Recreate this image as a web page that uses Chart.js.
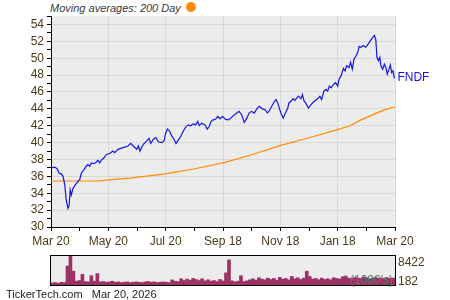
<!DOCTYPE html>
<html>
<head>
<meta charset="utf-8">
<script src="https://cdn.jsdelivr.net/npm/chart.js@4"></script>
<style>
body { margin: 0; width: 450px; height: 300px; background: #fff; position: relative; overflow: hidden; font-family: "Liberation Sans", Arial, sans-serif; }
#main { position: absolute; left: 0; top: 0; }
#vol { position: absolute; left: 0; top: 245px; }
#title { position: absolute; left: 50px; top: 1px; font-size: 11px; line-height: 14px; font-style: italic; color: #3a3a3a; }
#dot { position: absolute; left: 186px; top: 2px; width: 10px; height: 10px; border-radius: 50%; background: #ff8c00; }
#footer { position: absolute; left: 6px; top: 287px; font-size: 11px; line-height: 14px; color: #222; }
</style>
</head>
<body>
<div id="title">Moving averages: 200 Day</div>
<div id="dot"></div>
<canvas id="main" width="450" height="250"></canvas>
<canvas id="vol" width="450" height="55"></canvas>
<div id="footer">TickerTech.com&nbsp;&nbsp; Mar 20, 2026</div>
<script>
seriesName = "FNDF"
xLabels = ["Mar 20", "May 20", "Jul 20", "Sep 18", "Nov 18", "Jan 18", "Mar 20"]

// x in months from the start of the window
priceMonths = [0.01,0.13,0.21,0.28,0.36,0.42,0.48,0.53,0.59,0.63,0.67,0.71,0.77,0.85,0.94,1.00,1.06,1.15,1.23,1.29,
    1.35,1.41,1.50,1.58,1.64,1.70,1.75,1.85,1.93,2.05,2.16,2.22,2.34,2.51,2.69,2.78,2.87,2.99,3.05,3.10,
    3.22,3.34,3.42,3.48,3.57,3.66,3.74,3.86,3.94,4.01,4.06,4.13,4.21,4.29,4.36,4.44,4.52,4.62,4.71,4.79,
    4.87,4.96,5.05,5.12,5.17,5.26,5.37,5.45,5.52,5.58,5.66,5.75,5.82,5.90,5.98,6.07,6.16,6.24,6.36,6.48,
    6.56,6.65,6.74,6.83,6.91,7.00,7.09,7.18,7.27,7.37,7.47,7.55,7.62,7.70,7.78,7.85,7.91,7.96,8.02,8.10,
    8.19,8.26,8.30,8.37,8.45,8.51,8.63,8.72,8.77,8.83,8.88,8.98,9.07,9.18,9.30,9.38,9.44,9.52,9.59,9.65,
    9.71,9.77,9.85,9.93,10.00,10.05,10.12,10.20,10.26,10.31,10.40,10.45,10.51,10.57,10.63,10.70,10.75,10.81,10.89,10.98,
    11.05,11.13,11.21,11.28,11.33,11.37,11.42,11.47,11.51,11.57,11.63,11.68,11.73,11.79,11.84,11.88,11.93,11.98]
priceValues = [37.0,37.1,36.9,36.4,36.3,36.0,35.0,33.2,32.2,32.5,34.4,33.8,34.6,35.0,35.4,35.6,36.4,36.8,37.2,37.4,
    37.2,37.6,37.5,37.7,37.9,37.6,37.9,38.2,38.6,38.7,39.0,38.8,39.2,39.4,39.6,39.9,39.6,39.2,39.6,39.0,
    39.8,40.2,40.5,39.9,40.4,40.6,40.1,40.0,40.2,41.2,41.6,41.4,40.8,40.4,39.9,40.3,40.7,41.4,41.9,42.1,
    42.0,42.2,42.1,42.5,42.0,42.3,42.1,41.6,41.9,42.5,42.7,42.8,43.1,42.8,43.1,42.8,42.7,42.8,43.2,43.5,
    43.7,43.3,42.4,42.9,43.5,43.7,43.5,44.0,44.3,44.0,43.9,43.5,43.8,44.3,44.8,45.1,44.7,44.1,43.5,42.9,
    43.6,44.1,44.7,44.9,45.2,45.0,45.5,45.2,45.7,44.9,44.7,44.1,44.5,44.9,45.2,45.5,45.1,46.1,46.3,46.1,
    46.7,46.5,46.9,47.1,46.7,47.5,47.9,48.8,48.5,49.1,48.9,49.5,48.7,49.9,50.2,50.7,51.4,51.3,51.5,51.3,
    51.6,52.0,52.4,52.7,52.2,50.1,49.7,50.1,49.1,48.7,49.3,48.9,48.1,48.7,49.2,48.3,48.5,47.6]

maMonths = [0, 1.64, 2.2, 2.76, 3.98, 5.02, 6.07, 6.94, 7.99, 9.03, 9.98, 10.43, 10.85, 11.3, 11.65, 12]
maValues = [35.45, 35.45, 35.65, 35.8, 36.3, 36.9, 37.65, 38.5, 39.65, 40.6, 41.5, 42.0, 42.75, 43.4, 43.9, 44.25]

// volume in 1000's
volumes = [600,700,500,800,700,5500,8422,4000,1100,1300,3100,1000,900,2700,1100,3300,900,1000,800,900,
    1100,800,900,700,800,900,700,800,900,800,700,900,1000,800,900,700,800,900,800,700,
    1500,1100,1000,1800,1300,1700,1400,1900,1600,1300,1800,1200,1500,1100,1300,1000,1600,1200,3500,7300,
    1200,900,1100,2700,1000,1200,1500,1800,1400,2100,1700,1500,2000,1600,1900,1400,2200,1700,1900,1500,
    2500,1800,2100,1600,2000,4000,2500,1700,1900,1500,2000,1600,1800,1500,2100,1900,1700,2400,2600,2000,
    1800,2200,2000,1900,2300,2100,1800,2000,2200,1900,2000,1800,2100,1900,2000]
volLabels = [8422, 182]

tickFont = { family: "Liberation Sans", size: 12 }
tickColor = "#4a3a1a"

const plotBg = {
    id: "plotBg",
    beforeDraw(chart) {
        const a = chart.chartArea
        const ctx = chart.ctx
        ctx.save()
        ctx.fillStyle = "#ececec"
        ctx.fillRect(a.left, a.top, a.right - a.left, a.bottom - a.top)
        ctx.restore()
    }
}

const endLabel = {
    id: "endLabel",
    afterDatasetsDraw(chart) {
        const pts = chart.getDatasetMeta(0).data
        const p = pts[pts.length - 1]
        const ctx = chart.ctx
        ctx.save()
        ctx.font = '12px "Liberation Sans"'
        ctx.fillStyle = "#1414e6"
        ctx.textBaseline = "middle"
        ctx.fillText(seriesName, p.x + 3, p.y - 1)
        ctx.restore()
    }
}

new Chart(document.getElementById("main"), {
    type: "line",
    data: {
        datasets: [
            {
                data: priceMonths.map((m, i) => ({ x: m, y: priceValues[i] })),
                borderColor: "#1414e6",
                borderWidth: 1.2,
                pointRadius: 0
            },
            {
                data: maMonths.map((m, i) => ({ x: m, y: maValues[i] })),
                borderColor: "#ff8c00",
                borderWidth: 1.2,
                pointRadius: 0
            }
        ]
    },
    options: {
        responsive: false,
        animation: false,
        devicePixelRatio: 1,
        layout: { padding: { left: 0, right: 55, top: 16, bottom: 0 } },
        plugins: { legend: { display: false }, tooltip: { enabled: false } },
        scales: {
            x: {
                type: "linear",
                min: 0,
                max: 12,
                ticks: {
                    stepSize: 1,
                    autoSkip: false,
                    maxRotation: 0,
                    padding: 3,
                    font: tickFont,
                    color: tickColor,
                    callback: (v) => (v % 2 === 0 ? xLabels[v / 2] : "")
                },
                grid: {
                    color: (c) => (c.tick && c.tick.value % 2 === 0 ? "#d9d9d9" : "rgba(0,0,0,0)"),
                    tickColor: "#000",
                    tickLength: 4
                },
                border: { color: "#000" },
                afterFit: (s) => { s.height = 23; s.paddingLeft = 0; s.paddingRight = 0 }
            },
            y: {
                min: 30,
                max: 55,
                ticks: {
                    stepSize: 1,
                    autoSkip: false,
                    padding: 3,
                    font: tickFont,
                    color: tickColor,
                    callback: (v) => (v % 2 === 0 ? v : "")
                },
                grid: {
                    color: (c) => (c.tick && c.tick.value % 2 === 0 ? "#d9d9d9" : "rgba(0,0,0,0)"),
                    tickColor: "#000",
                    tickLength: 4
                },
                border: { color: "#000" },
                afterFit: (s) => { s.width = 51; s.paddingTop = 0; s.paddingBottom = 0 }
            }
        }
    },
    plugins: [plotBg, endLabel]
})

const volFrame = {
    id: "volFrame",
    afterDatasetsDraw(chart) {
        const a = chart.chartArea
        const ctx = chart.ctx
        const ys = chart.scales.y
        ctx.save()
        ctx.strokeStyle = "#000"
        ctx.lineWidth = 1
        ctx.strokeRect(a.left - 0.5, a.top - 0.5, a.right - a.left + 1, a.bottom - a.top + 1)
        ctx.font = '12px "Liberation Sans"'
        ctx.textBaseline = "middle"
        ctx.fillStyle = "#4d7d6a"
        ctx.textAlign = "right"
        ctx.fillText("(1000's)", a.right - 2, ys.getPixelForValue(0) - 4)
        ctx.fillStyle = tickColor
        ctx.textAlign = "left"
        ctx.fillText(String(volLabels[0]), a.right + 3, ys.getPixelForValue(volLabels[0]) + 7)
        ctx.fillText(String(volLabels[1]), a.right + 3, ys.getPixelForValue(0) - 3)
        ctx.restore()
    }
}

new Chart(document.getElementById("vol"), {
    type: "bar",
    data: {
        labels: volumes.map((v, i) => i),
        datasets: [{
            data: volumes,
            backgroundColor: "#9c3264",
            borderWidth: 0,
            barPercentage: 1,
            categoryPercentage: 1
        }]
    },
    options: {
        responsive: false,
        animation: false,
        devicePixelRatio: 1,
        layout: { padding: { left: 51, right: 55, top: 11, bottom: 15 } },
        plugins: { legend: { display: false }, tooltip: { enabled: false } },
        scales: {
            x: { display: false },
            y: { display: false, min: 0, max: 8422 }
        }
    },
    plugins: [plotBg, volFrame]
})
</script>
</body>
</html>
